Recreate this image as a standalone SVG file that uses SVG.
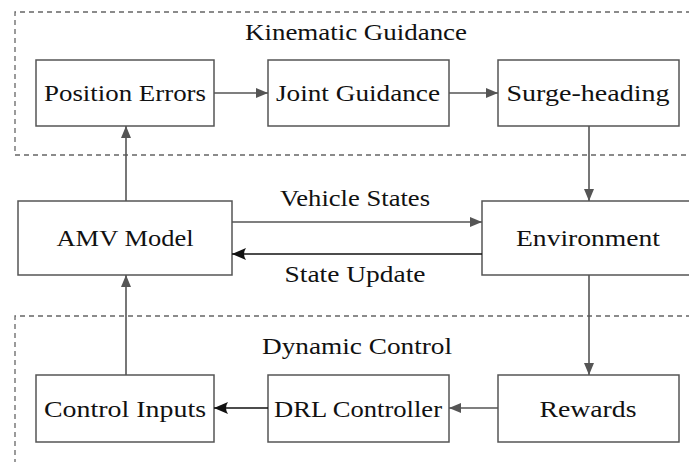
<svg xmlns="http://www.w3.org/2000/svg" width="689" height="462" viewBox="0 0 689 462">
<defs>
<style>
.box{fill:#fff;stroke:#555;stroke-width:1.5}
.grp{fill:none;stroke:#666;stroke-width:1.3;stroke-dasharray:5,4}
.ln{fill:none;stroke:#555;stroke-width:1.6}
.lnk{fill:none;stroke:#111;stroke-width:1.6}
text{font-family:"Liberation Serif","Times New Roman",serif;font-size:24px;fill:#111;text-anchor:middle}
</style>
<marker id="ag" viewBox="0 0 12 10" refX="12" refY="5" markerWidth="12" markerHeight="10" markerUnits="userSpaceOnUse" orient="auto">
<path d="M0,0 L12,5 L0,10 z" fill="#555"/>
</marker>
<marker id="ak" viewBox="0 0 14 12" refX="14" refY="6" markerWidth="14" markerHeight="12" markerUnits="userSpaceOnUse" orient="auto">
<path d="M0,0 L14,6 L0,12 Q4,6 0,0 z" fill="#111"/>
</marker>
</defs>
<rect x="0" y="0" width="689" height="462" fill="#fff"/>
<g id="kinematic-guidance">
<path class="grp" d="M700,12 H15 V155 H700"/>
<text x="356" y="40" textLength="222" lengthAdjust="spacingAndGlyphs">Kinematic Guidance</text>
</g>
<g id="dynamic-control">
<path class="grp" d="M700,316 H15 V470"/>
<text x="357" y="354" textLength="190" lengthAdjust="spacingAndGlyphs">Dynamic Control</text>
</g>
<g id="position-errors"><rect class="box" x="36" y="60" width="178" height="66"/><text x="125" y="101" textLength="162" lengthAdjust="spacingAndGlyphs">Position Errors</text></g>
<g id="joint-guidance"><rect class="box" x="268" y="60" width="181" height="66"/><text x="358" y="101" textLength="164" lengthAdjust="spacingAndGlyphs">Joint Guidance</text></g>
<g id="surge-heading"><rect class="box" x="498" y="60" width="181" height="66"/><text x="588" y="101" textLength="163" lengthAdjust="spacingAndGlyphs">Surge-heading</text></g>
<g id="amv-model"><rect class="box" x="18" y="201" width="214" height="74"/><text x="125" y="246" textLength="137" lengthAdjust="spacingAndGlyphs">AMV Model</text></g>
<g id="environment"><rect class="box" x="482" y="201" width="220" height="74"/><text x="588" y="246" textLength="144" lengthAdjust="spacingAndGlyphs">Environment</text></g>
<g id="control-inputs"><rect class="box" x="36" y="375" width="178" height="67"/><text x="125" y="417" textLength="162" lengthAdjust="spacingAndGlyphs">Control Inputs</text></g>
<g id="drl-controller"><rect class="box" x="268" y="375" width="181" height="67"/><text x="358" y="417" textLength="168" lengthAdjust="spacingAndGlyphs">DRL Controller</text></g>
<g id="rewards"><rect class="box" x="498" y="375" width="181" height="67"/><text x="588" y="417" textLength="97" lengthAdjust="spacingAndGlyphs">Rewards</text></g>
<g id="connectors">
<line class="ln" x1="214" y1="93" x2="268" y2="93" marker-end="url(#ag)"/>
<line class="ln" x1="449" y1="93" x2="498" y2="93" marker-end="url(#ag)"/>
<line class="ln" x1="126" y1="201" x2="126" y2="126" marker-end="url(#ag)"/>
<line class="ln" x1="589" y1="126" x2="589" y2="201" marker-end="url(#ag)"/>
<line class="ln" x1="232" y1="222" x2="482" y2="222" marker-end="url(#ag)"/>
<line class="lnk" x1="482" y1="254" x2="232" y2="254" marker-end="url(#ak)"/>
<line class="ln" x1="589" y1="275" x2="589" y2="375" marker-end="url(#ag)"/>
<line class="ln" x1="126" y1="375" x2="126" y2="275" marker-end="url(#ag)"/>
<line class="ln" x1="498" y1="408" x2="449" y2="408" marker-end="url(#ag)"/>
<line class="lnk" x1="268" y1="408" x2="214" y2="408" marker-end="url(#ak)"/>
<text x="355" y="206" textLength="150" lengthAdjust="spacingAndGlyphs">Vehicle States</text>
<text x="355" y="282" textLength="141" lengthAdjust="spacingAndGlyphs">State Update</text>
</g>
</svg>
